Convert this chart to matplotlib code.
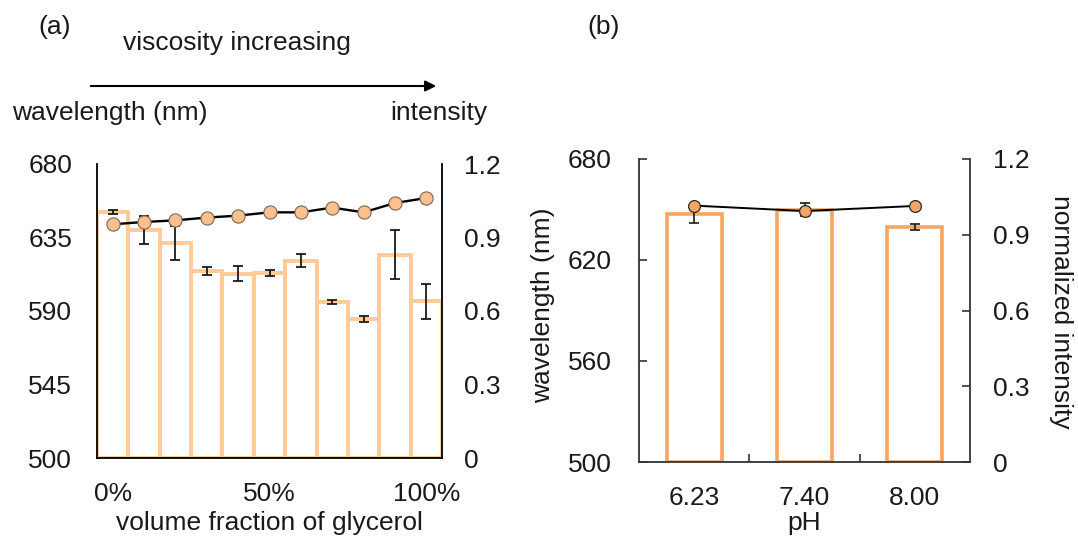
import matplotlib
matplotlib.use('Agg')
import matplotlib.pyplot as plt
from matplotlib.ticker import FixedLocator

plt.rcParams['font.family'] = ['Liberation Sans', 'DejaVu Sans']
FS = 19
TXT = '#1a1a1a'

# ---------------- data ----------------
# panel (a): glycerol volume fraction series
glycerol_fraction = [0, 10, 20, 30, 40, 50, 60, 70, 80, 90, 100]
glycerol_tick_pos = [0, 5, 10]
glycerol_tick_labels = ['0%', '50%', '100%']
wavelength_a = [643.1, 644.5, 645.5, 647.2, 648.4, 650.4, 650.4, 653.3, 650.4, 656.1, 659.2]
intensity_a = [1.005, 0.931, 0.878, 0.762, 0.753, 0.756, 0.805, 0.635, 0.567, 0.829, 0.640]
intensity_a_err = [0.008, 0.058, 0.069, 0.016, 0.030, 0.012, 0.027, 0.008, 0.011, 0.100, 0.071]

# panel (b): pH series
ph_labels = ['6.23', '7.40', '8.00']
wavelength_b = [652.3, 649.1, 652.1]
intensity_b = [0.982, 1.000, 0.931]
intensity_b_err = [0.036, 0.026, 0.013]

wl_ticks_a = [500, 545, 590, 635, 680]
wl_ticks_b = [500, 560, 620, 680]
int_ticks = [0, 0.3, 0.6, 0.9, 1.2]
int_tick_labels = ['0', '0.3', '0.6', '0.9', '1.2']

# ---------------- figure ----------------
W, H = 1078, 537
fig = plt.figure(figsize=(W / 100, H / 100), dpi=100)


def box(l, t, r, b):
    return [l / W, 1 - b / H, (r - l) / W, (b - t) / H]


def ftext(x, y, s, **kw):
    kw.setdefault('fontsize', FS)
    kw.setdefault('color', TXT)
    fig.text(x / W, 1 - y / H, s, **kw)


# ---------- panel (a) ----------
axw = fig.add_axes(box(97, 164, 442, 458))
axi = axw.twinx()
axw.set_zorder(axi.get_zorder() + 1)
axw.patch.set_visible(False)

xa = list(range(len(glycerol_fraction)))
axi.bar(xa, intensity_a, width=1.0, facecolor='none', edgecolor='#FFCB98',
        linewidth=2.8, zorder=2)
axi.errorbar(xa, intensity_a, yerr=intensity_a_err, fmt='none', ecolor='#1a1a1a',
             elinewidth=1.3, capsize=3.5, capthick=1.3, zorder=3)
axw.plot(xa, wavelength_a, '-o', color='black', lw=1.7, markersize=9.5,
         markerfacecolor='#FBC08E', markeredgecolor='#7a6656', markeredgewidth=0.8,
         zorder=4)

axw.set_xlim(-0.5, 10.5)
axw.set_ylim(500, 680)
axi.set_ylim(0, 1.2)
axw.set_xticks(glycerol_tick_pos)
axw.set_xticklabels(glycerol_tick_labels)
axw.set_yticks(wl_ticks_a)
axi.set_yticks(int_ticks)
axi.set_yticklabels(int_tick_labels)
axw.tick_params(axis='y', length=0, pad=18, labelsize=FS, labelcolor=TXT)
axw.tick_params(axis='x', length=0, pad=17, labelsize=FS, labelcolor=TXT)
axi.tick_params(axis='y', length=0, pad=16, labelsize=FS, labelcolor=TXT)
for ax in (axw, axi):
    ax.spines['top'].set_visible(False)
axw.spines['right'].set_visible(False)
axi.spines['left'].set_visible(False)
axi.spines['bottom'].set_visible(False)
for sp in ('left', 'bottom'):
    axw.spines[sp].set_linewidth(1.3)
axi.spines['right'].set_linewidth(1.3)

ftext(269.5, 523, 'volume fraction of glycerol', ha='center', va='center')

# header annotations of panel (a)
ftext(38, 34, '(a)', ha='left', va='baseline')
ftext(123, 50, 'viscosity increasing', ha='left', va='baseline')
ftext(12, 120, 'wavelength (nm)', ha='left', va='baseline')
ftext(390, 120, 'intensity', ha='left', va='baseline')
fig.add_artist(matplotlib.patches.FancyArrowPatch(
    (88 / W, 1 - 86 / H), (439 / W, 1 - 86 / H), transform=fig.transFigure,
    arrowstyle='-|>', mutation_scale=16, color='black', lw=1.5))

# ---------- panel (b) ----------
bxw = fig.add_axes(box(639, 159, 970, 462))
bxi = bxw.twinx()
bxw.set_zorder(bxi.get_zorder() + 1)
bxw.patch.set_visible(False)

xb = list(range(len(ph_labels)))
bxi.bar(xb, intensity_b, width=0.5, facecolor='none', edgecolor='#F8A55E',
        linewidth=2.6, zorder=2)
bxi.errorbar(xb, intensity_b, yerr=intensity_b_err, fmt='none', ecolor='#1a1a1a',
             elinewidth=1.2, capsize=3.5, capthick=1.2, zorder=3)
bxw.plot(xb, wavelength_b, '-o', color='black', lw=1.4, markersize=8.5,
         markerfacecolor='#F5A560', markeredgecolor='#2a2a2a', markeredgewidth=0.9,
         zorder=4)

bxw.set_xlim(-0.5, 2.5)
bxw.set_ylim(500, 680)
bxi.set_ylim(0, 1.2)
bxw.set_xticks(xb)
bxw.set_xticklabels(ph_labels)
bxw.xaxis.set_minor_locator(FixedLocator([0.5, 1.5]))
bxw.set_yticks(wl_ticks_b)
bxi.set_yticks(int_ticks)
bxi.set_yticklabels(int_tick_labels)
bxw.tick_params(axis='y', direction='in', length=6, width=1.2, color='#333333',
                pad=19.5, labelsize=FS, labelcolor=TXT)
bxi.tick_params(axis='y', direction='in', length=6, width=1.2, color='#333333',
                pad=16.5, labelsize=FS, labelcolor=TXT)
bxw.tick_params(axis='x', which='major', length=0, pad=17, labelsize=FS, labelcolor=TXT)
bxw.tick_params(axis='x', which='minor', direction='in', length=6, width=1.2,
                color='#333333')
for ax in (bxw, bxi):
    ax.spines['top'].set_visible(False)
bxw.spines['right'].set_visible(False)
bxi.spines['left'].set_visible(False)
bxi.spines['bottom'].set_visible(False)
for sp in ('left', 'bottom'):
    bxw.spines[sp].set_linewidth(1.3)
    bxw.spines[sp].set_color('#333333')
bxi.spines['right'].set_linewidth(1.3)
bxi.spines['right'].set_color('#333333')

ftext(587, 34, '(b)', ha='left', va='baseline')
ftext(543, 305, 'wavelength (nm)', rotation=90, ha='center', va='center')
ftext(1061, 312, 'normalized intensity', rotation=-90, ha='center', va='center')
ftext(804, 523, 'pH', ha='center', va='center')

fig.savefig('out.png', dpi=100)
